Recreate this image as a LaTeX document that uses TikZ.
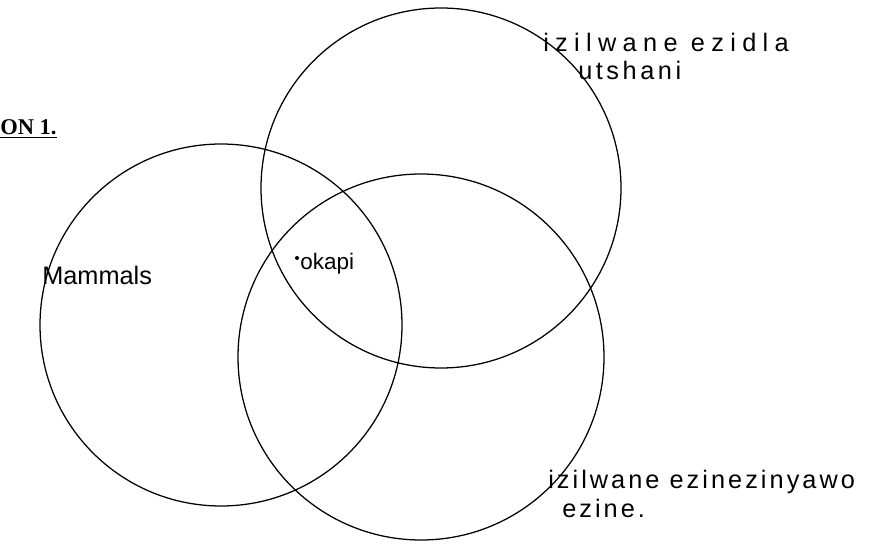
\documentclass[tikz,border=0pt]{standalone}
\usepackage{fontspec}
\setmainfont{Liberation Serif}
\newfontfamily\handfont{Liberation Sans}
\usepackage{tikz}
\usetikzlibrary{positioning}

\begin{document}
\begin{tikzpicture}[x=0.025cm, y=-0.025cm,
		venn/.style={draw, circle, line width=0.9pt, inner sep=0pt},
		hand/.style={font=\handfont\fontsize{18}{20}\selectfont, inner sep=0pt, anchor=west}]
		% ---- Canvas (pixel units) ----
		\useasboundingbox (0,0) rectangle (881,550);
		
		% ---- Circle geometry ----
		\def\rA{362}   % Mammals diameter
		\def\rB{360}   % grass eaters diameter
		\def\rC{366}   % four-legged diameter
		
		% ---- Heading (cut at left edge) ----
		\node[anchor=south west, inner sep=0pt, font=\bfseries\fontsize{16}{18}\selectfont] (title) at (0,138) {\underline{ON 1.}};
		
		% ---- Circles ----
		\node[venn, minimum size=\rA*0.025cm] (mammals) at (221,325) {};
		\node[venn, minimum size=\rB*0.025cm] (grass) at (441,188) {};
		\node[venn, minimum size=\rC*0.025cm] (legs) at (421,357) {};
		
		% ---- Labels ----
		\node[hand] (lblA) at (42,275) {Mammals};
		\fill (297,258) circle (2) coordinate (okapidot);
		\node[hand, font=\handfont\fontsize{16}{18}\selectfont, right=3 of okapidot, yshift=-4] (okapi) {okapi};
		
		\node[hand, font=\handfont\fontsize{18}{20}\selectfont\addfontfeature{LetterSpace=25}] (lblB) at (543,42) {izilwane ezidla};
		\node[hand, font=\handfont\fontsize{18}{20}\selectfont\addfontfeature{LetterSpace=14}] (lblBb) at (578,70) {utshani};
		
		\node[hand, font=\handfont\fontsize{18}{20}\selectfont\addfontfeature{LetterSpace=12}] (lblC) at (548,482) {izilwane ezinezinyawo};
		\node[hand, font=\handfont\fontsize{18}{20}\selectfont\addfontfeature{LetterSpace=12}] (lblCb) at (562,508) {ezine.};
		
	\end{tikzpicture}
\end{document}
